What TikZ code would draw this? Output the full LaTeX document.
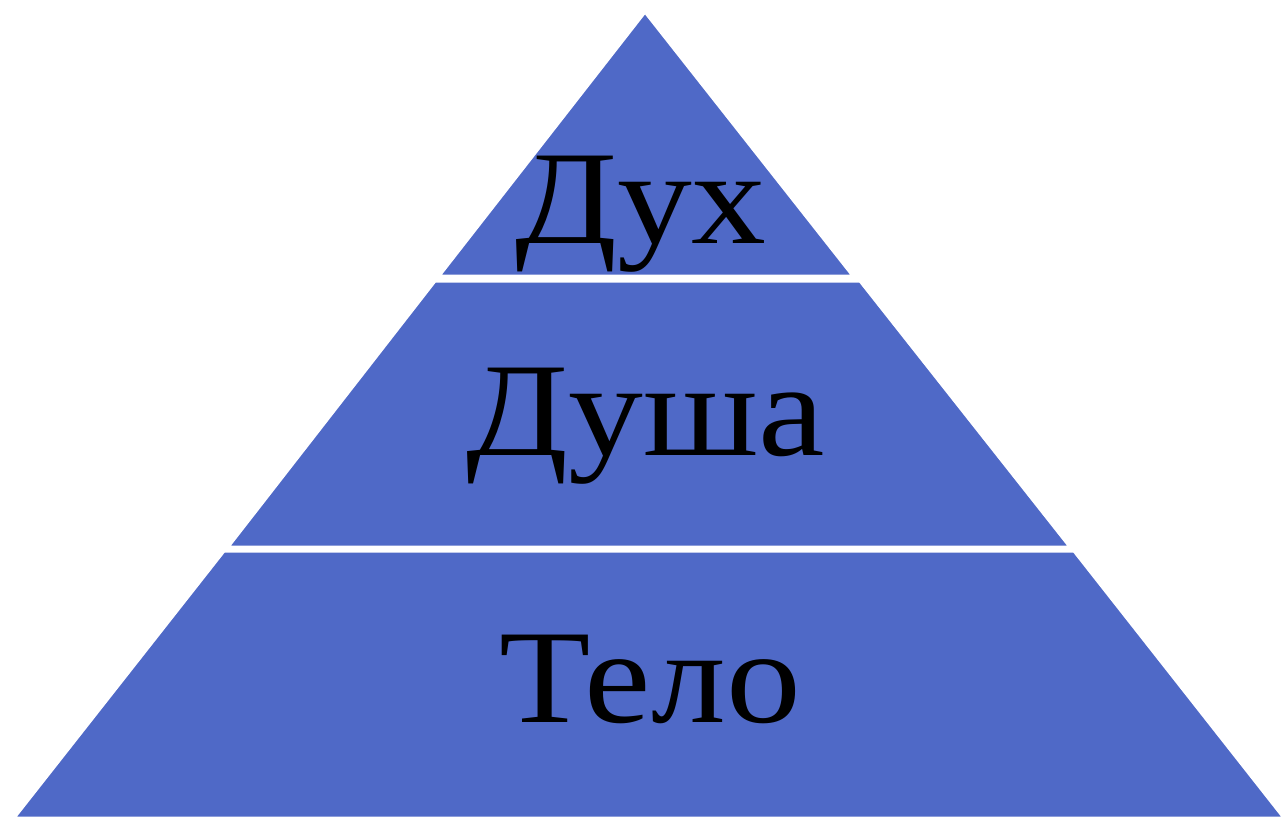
\documentclass[tikz,border=0pt]{standalone}
\usepackage{fontspec}
\setmainfont{Liberation Serif}
\usetikzlibrary{positioning}

\definecolor{pyrblue}{RGB}{79,105,199}

\begin{document}
\begin{tikzpicture}[
  x=0.02cm, y=-0.02cm,
  layer/.style={fill=pyrblue, draw=white, line width=1.7pt, line join=round},
  lbl/.style={anchor=base, inner sep=0pt, font=\fontsize{76}{80}\selectfont, text=black,
              xscale=1.12, transform shape},
]
\useasboundingbox (0,0) rectangle (1282,816);
% pyramid layers
\path[layer] (645,12) -- (439,276) -- (853,276) -- cycle;
\path[layer] (435,281) -- (228,547) -- (1070,547) -- (860,281) -- cycle;
\path[layer] (224,551) -- (14,818) -- (1284,818) -- (1074,551) -- cycle;
% labels
\node[lbl] (dukh) at (641,243) {Дух};
\node[lbl] (dusha) at (646,455) {Душа};
\node[lbl] (telo) at (650,722) {Тело};
\end{tikzpicture}
\end{document}
